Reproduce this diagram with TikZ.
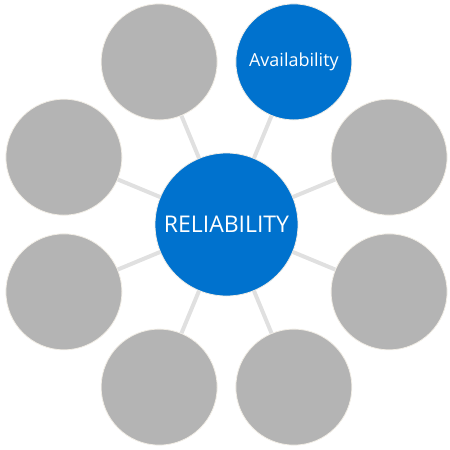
\documentclass[tikz,border=0pt]{standalone}
\usepackage{fontspec}
\setmainfont{Open Sans}
\usetikzlibrary{calc}
\definecolor{relblue}{RGB}{0,114,206}
\definecolor{relgray}{RGB}{180,180,180}
\definecolor{rellink}{RGB}{224,224,224}
\definecolor{relrim}{RGB}{242,238,230}

\begin{document}
\begin{tikzpicture}[x=1pt,y=1pt,
  hub/.style={circle,fill=relblue,draw=relrim,line width=0.8pt,minimum size=143pt,inner sep=0pt,text=white,font=\fontsize{23}{27}\selectfont},
  petal/.style={circle,fill=relgray,draw=relrim,line width=0.8pt,minimum size=116pt,inner sep=0pt},
  link/.style={draw=rellink,line width=4pt}
]
\useasboundingbox (0,0) rectangle (450,-450);
\node[hub] (rel) at (226.5,-224.5) {RELIABILITY};
\node[petal,fill=relblue,text=white,font=\fontsize{18}{22}\selectfont] (p1) at ($(rel)+(67.5:176pt)$) {Availability};
\foreach \i/\a in {2/112.5,3/157.5,4/202.5,5/247.5,6/292.5,7/337.5,8/22.5}
  \node[petal] (p\i) at ($(rel)+(\a:176pt)$) {};
\foreach \i in {1,...,8} \draw[link] (rel) -- (p\i);
\end{tikzpicture}
\end{document}
